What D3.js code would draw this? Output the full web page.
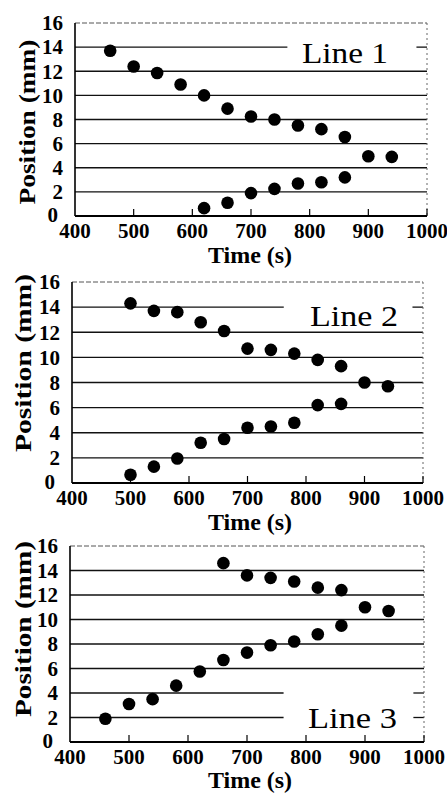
<!DOCTYPE html>
<html>
<head>
<meta charset="utf-8">
<script src="https://cdn.jsdelivr.net/npm/d3@7"></script>
<style>
  body { margin: 0; background: #fff; }
  svg { display: block; }
</style>
</head>
<body>
<div id="chart"></div>
<script>
// Data (time in s, position in mm)
const timeUpper1 = [460, 500, 540, 580, 620, 660, 700, 740, 780, 820, 860, 900, 940];
const posUpper1 = [13.7, 12.4, 11.85, 10.9, 10.0, 8.9, 8.25, 8.0, 7.5, 7.2, 6.55, 4.95, 4.9];
const timeLower1 = [620, 660, 700, 740, 780, 820, 860];
const posLower1 = [0.65, 1.1, 1.9, 2.25, 2.7, 2.8, 3.2];

const timeUpper2 = [500, 540, 580, 620, 660, 700, 740, 780, 820, 860, 900, 940];
const posUpper2 = [14.3, 13.7, 13.6, 12.8, 12.1, 10.7, 10.6, 10.3, 9.8, 9.3, 8.0, 7.7];
const timeLower2 = [500, 540, 580, 620, 660, 700, 740, 780, 820, 860];
const posLower2 = [0.66, 1.3, 1.95, 3.2, 3.5, 4.4, 4.5, 4.8, 6.2, 6.3];

const timeUpper3 = [660, 700, 740, 780, 820, 860, 900, 940];
const posUpper3 = [14.6, 13.6, 13.4, 13.1, 12.6, 12.4, 11.0, 10.7];
const timeLower3 = [460, 500, 540, 580, 620, 660, 700, 740, 780, 820, 860];
const posLower3 = [1.9, 3.1, 3.5, 4.6, 5.75, 6.7, 7.3, 7.9, 8.2, 8.8, 9.5];

const xTicks = [400, 500, 600, 700, 800, 900, 1000];
const yTicks = [0, 2, 4, 6, 8, 10, 12, 14, 16];
const panelLabels = ["Line 1", "Line 2", "Line 3"];

const width = 447, height = 795;
const font = "'Liberation Serif', 'Times New Roman', Times, serif";

// layout of each panel (pixels)
const panels = [
  { left: 75, right: 427, top: 23, bottom: 216,
    times: [timeUpper1, timeLower1], pos: [posUpper1, posLower1],
    broken: [14], labelX: 302, labelY: 63, labelW: 86,
    titleX: 35, titleY: 122, titleW: 165, timeY: 263 },
  { left: 72, right: 423, top: 282, bottom: 483,
    times: [timeUpper2, timeLower2], pos: [posUpper2, posLower2],
    broken: [14], labelX: 310, labelY: 326, labelW: 88,
    titleX: 31, titleY: 363, titleW: 178, timeY: 530 },
  { left: 70, right: 424, top: 546, bottom: 742,
    times: [timeUpper3, timeLower3], pos: [posUpper3, posLower3],
    broken: [4, 2], labelX: 308, labelY: 728, labelW: 89,
    titleX: 31, titleY: 629, titleW: 176, timeY: 788 }
];

const svg = d3.select("#chart").append("svg")
  .attr("width", width)
  .attr("height", height)
  .style("font-family", font);

panels.forEach((p, i) => {
  const x = d3.scaleLinear().domain([400, 1000]).range([p.left, p.right]);
  const y = d3.scaleLinear().domain([0, 16]).range([p.bottom, p.top]);
  const g = svg.append("g");

  // gridlines (some are cut to leave room for the label)
  yTicks.filter(v => v > 0 && v < 16).forEach(v => {
    const segs = p.broken.includes(v) ? [[400, 762], [982, 1000]] : [[400, 1000]];
    segs.forEach(s => {
      g.append("line")
        .attr("x1", x(s[0])).attr("x2", x(s[1]))
        .attr("y1", y(v)).attr("y2", y(v))
        .attr("stroke", "#111")
        .attr("stroke-width", 1.3);
    });
  });

  // dotted top and right border
  g.append("line")
    .attr("x1", x(400)).attr("x2", x(1000))
    .attr("y1", y(16)).attr("y2", y(16))
    .attr("stroke", "#555").attr("stroke-width", 1)
    .attr("stroke-dasharray", "5,2");
  g.append("line")
    .attr("x1", x(1000)).attr("x2", x(1000))
    .attr("y1", y(16)).attr("y2", y(0))
    .attr("stroke", "#666").attr("stroke-width", 1)
    .attr("stroke-dasharray", "2,3");

  // axes
  g.append("line")
    .attr("x1", x(400)).attr("x2", x(400))
    .attr("y1", y(16)).attr("y2", y(0))
    .attr("stroke", "#000").attr("stroke-width", 1.6);
  g.append("line")
    .attr("x1", x(400)).attr("x2", x(1000))
    .attr("y1", y(0)).attr("y2", y(0))
    .attr("stroke", "#000").attr("stroke-width", 2);

  // inward x ticks
  g.selectAll(".xt")
    .data(xTicks.slice(1))
    .join("line")
    .attr("x1", d => x(d)).attr("x2", d => x(d))
    .attr("y1", y(0)).attr("y2", y(0) - 7)
    .attr("stroke", "#000").attr("stroke-width", 1.2);

  // tick labels
  g.selectAll(".xl")
    .data(xTicks)
    .join("text")
    .attr("x", d => x(d))
    .attr("y", y(0) + 22)
    .attr("text-anchor", "middle")
    .attr("font-size", 21)
    .attr("font-weight", "bold")
    .text(d => d);

  g.selectAll(".yl")
    .data(yTicks)
    .join("text")
    .attr("x", d => d === 0 ? p.left - 17 : p.left - 12)
    .attr("y", d => d === 0 ? y(0) + 6 : y(d))
    .attr("dy", d => d === 0 ? 0 : "0.35em")
    .attr("text-anchor", "end")
    .attr("font-size", 21)
    .attr("font-weight", "bold")
    .text(d => d);

  // axis titles
  g.append("text")
    .attr("x", 250)
    .attr("y", p.timeY)
    .attr("text-anchor", "middle")
    .attr("font-size", 24)
    .attr("font-weight", "bold")
    .text("Time (s)");

  g.append("text")
    .attr("transform", `translate(${p.titleX},${p.titleY}) rotate(-90)`)
    .attr("text-anchor", "middle")
    .attr("font-size", 23)
    .attr("font-weight", "bold")
    .attr("textLength", p.titleW)
    .attr("lengthAdjust", "spacingAndGlyphs")
    .text("Position (mm)");

  // panel label
  g.append("text")
    .attr("x", p.labelX)
    .attr("y", p.labelY)
    .attr("font-size", 30)
    .attr("textLength", p.labelW)
    .attr("lengthAdjust", "spacingAndGlyphs")
    .text(panelLabels[i]);

  // data points
  p.times.forEach((ts, k) => {
    g.selectAll(null)
      .data(ts.map((t, j) => [t, p.pos[k][j]]))
      .join("circle")
      .attr("cx", d => x(d[0]))
      .attr("cy", d => y(d[1]))
      .attr("r", 6.3)
      .attr("fill", "#000");
  });
});
</script>
</body>
</html>
